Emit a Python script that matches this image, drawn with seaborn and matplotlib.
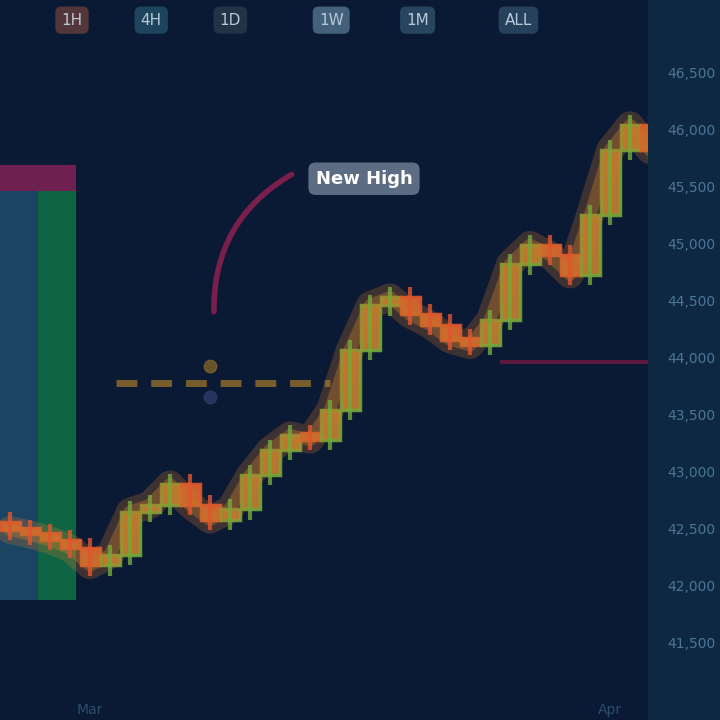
import numpy as np
import pandas as pd
import matplotlib.pyplot as plt
import seaborn as sns

# closing prices, one candle every ~20 px
closes = [42490, 42450, 42400, 42330, 42180, 42270, 42650, 42710, 42890, 42710,
          42580, 42670, 42970, 43190, 43320, 43280, 43540, 44070, 44460, 44530,
          44380, 44290, 44160, 44110, 44330, 44820, 44990, 44900, 44730, 45250,
          45820, 46040, 45820]
first_open = 42560

# order book strip on the left
book_cols = ["Volume", "Depth"]
book_buy = [94, 94]
book_sell = [6, 6]

# toolbar on top
toolbar = ["1H", "4H", "1D", "1W", "1M", "ALL"]

level_dashed = 43780
level_red = 43960
label_text = "New High"

sns.set_theme(style="dark")
bg = "#0b1a34"
plt.rcParams["font.family"] = ["DejaVu Sans"]

fig = plt.figure(figsize=(7.2, 7.2), dpi=100, facecolor=bg)

# right price column background
axr = fig.add_axes([0.90, 0, 0.10, 1], zorder=-1)
axr.set_facecolor("#0e2842")
axr.axis("off")
axr.add_patch(plt.Rectangle((0, 0), 1, 1, color="#0e2842"))

# left depth strip
axl = fig.add_axes([0, 0.167, 0.105, 0.604])
axl.set_facecolor(bg)
axl.bar([0], [book_buy[0]], width=1.0, color="#1a4462", linewidth=0)
axl.bar([1], [book_buy[1]], width=1.0, color="#0f6444", linewidth=0)
axl.bar([0, 1], book_sell, bottom=book_buy, width=1.0, color="#6e2050", linewidth=0)
axl.set_xlim(-0.5, 1.5)
axl.set_ylim(0, 100)
axl.axis("off")

ax = fig.add_axes([0, 0.028, 0.90, 0.917])
ax.patch.set_alpha(0)

opens = [first_open] + closes[:-1]
idx = np.arange(len(closes))
df = pd.DataFrame({"i": idx, "close": closes, "open": opens})

# soft glow under the candles
sns.lineplot(data=df, x="i", y="close", ax=ax, color="#d8782c", lw=20, alpha=0.25)
sns.lineplot(data=df, x="i", y="close", ax=ax, color="#c07a2c", lw=9, alpha=0.4)

for i, o, c in zip(df["i"], df["open"], df["close"]):
    up = c >= o
    col = "#c9812e" if up else "#e0682e"
    edge = "#72a83a" if up else "#e0552e"
    lo, hi = min(o, c), max(o, c)
    ax.vlines(i, lo - 90, hi + 90, color=edge, lw=3, alpha=0.8)
    ax.bar(i, max(hi - lo, 60), bottom=lo, width=0.95, color=col,
           edgecolor=edge, linewidth=2.5, alpha=0.9)

# annotations
ax.hlines(level_dashed, 5.3, 16.0, color="#a87a2a", lw=5, linestyles=(0, (3, 2)), alpha=0.7)
ax.hlines(level_red, 24.5, 32, color="#5c1a3e", lw=3)
ax.plot([10], [level_dashed + 150], "o", color="#8a6a2a", ms=9, alpha=0.7)
ax.plot([10], [level_dashed - 120], "o", color="#2c3a6a", ms=9, alpha=0.8)
ax.annotate("", xy=(14.2, 45620), xytext=(10.2, 44380),
            arrowprops=dict(arrowstyle="-", color="#7a1e4c", lw=4,
                            connectionstyle="arc3,rad=-0.3"))
ax.text(17.7, 45570, label_text, color="white", fontsize=13, fontweight="bold",
        ha="center", va="center",
        bbox=dict(boxstyle="round,pad=0.4", fc="#9fb0c4", ec="none", alpha=0.55))

ax.set_xlim(-0.5, 31.9)
ax.set_ylim(41000, 46790)
ax.yaxis.tick_right()
ax.set_yticks(np.arange(41500, 46800, 500))
ax.yaxis.set_major_formatter(plt.FuncFormatter(lambda v, p: f"{v:,.0f}"))
ax.tick_params(axis="y", colors="#4a7696", labelsize=10, length=0, pad=14)
ax.set_xticks([4, 30])
ax.set_xticklabels(["Mar", "Apr"])
ax.tick_params(axis="x", colors="#2c4e6c", labelsize=10, length=0, pad=2)
ax.set_xlabel("")
ax.set_ylabel("")
ax.grid(False)
for s in ax.spines.values():
    s.set_visible(False)

tool_x = [0.10, 0.21, 0.32, 0.46, 0.58, 0.72]
tool_c = ["#5a3a3a", "#1e4a62", "#23364a", "#4a6a84", "#2c4a66", "#2a4660"]
for t, x, c in zip(toolbar, tool_x, tool_c):
    fig.text(x, 0.972, t, color="#b9c8d8", fontsize=11, ha="center", va="center",
             bbox=dict(boxstyle="round,pad=0.4", fc=c, ec="none", alpha=0.9))

fig.savefig("out.png", dpi=100, facecolor=bg)
